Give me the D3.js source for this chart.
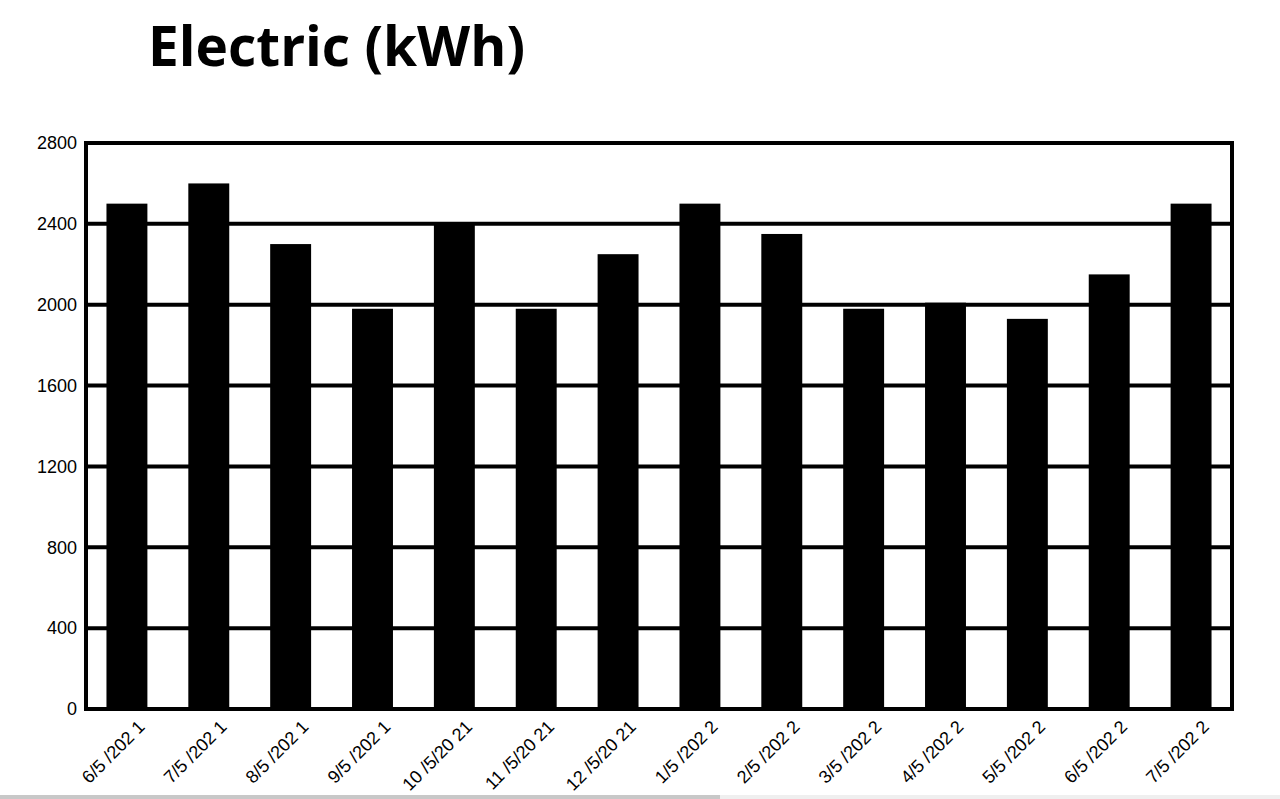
<!DOCTYPE html>
<html><head><meta charset="utf-8">
<script src="https://cdn.jsdelivr.net/npm/d3@7"></script>
<style>html,body{margin:0;padding:0;background:#fff;overflow:hidden}</style>
</head><body>
<svg id="chart" width="1280" height="799"></svg>
<script>
const categories = ["6/5 /202 1","7/5 /202 1","8/5 /202 1","9/5 /202 1","10 /5/20 21","11 /5/20 21","12 /5/20 21","1/5 /202 2","2/5 /202 2","3/5 /202 2","4/5 /202 2","5/5 /202 2","6/5 /202 2","7/5 /202 2"];
const values = [2500,2600,2300,1980,2400,1980,2250,2500,2350,1980,2010,1930,2150,2500];
const yTicks = [0,400,800,1200,1600,2000,2400,2800];
const title = "Electric (kWh)";

const svg = d3.select("#chart");
const L = 86, R = 1232, T = 143, B = 709;

const x = d3.scaleBand().domain(categories).range([L, R]).paddingInner(0.5).paddingOuter(0.25);
const y = d3.scaleLinear().domain([0, 2800]).range([B, T]);

// bottom strip artifact
svg.append("rect").attr("x",0).attr("y",795).attr("width",1280).attr("height",4).attr("fill","#efefef");
svg.append("rect").attr("x",0).attr("y",795).attr("width",720).attr("height",4).attr("fill","#c8c8c8");

// title
svg.append("text").attr("x",148).attr("y",66)
  .attr("font-family","'Open Sans', sans-serif").attr("font-weight","bold")
  .attr("font-size",56).attr("fill","#000").attr("textLength",377).attr("lengthAdjust","spacingAndGlyphs")
  .text(title);

// gridlines
svg.append("g").selectAll("line").data(yTicks).join("line")
  .attr("x1",L).attr("x2",R).attr("y1",d=>y(d)).attr("y2",d=>y(d))
  .attr("stroke","#000").attr("stroke-width",4);

// bars
svg.append("g").selectAll("rect").data(values).join("rect")
  .attr("x",(d,i)=>x(categories[i])).attr("width",x.bandwidth())
  .attr("y",d=>y(d)).attr("height",d=>B-y(d)).attr("fill","#000");

// frame
svg.append("rect").attr("x",L).attr("y",T).attr("width",R-L).attr("height",B-T)
  .attr("fill","none").attr("stroke","#000").attr("stroke-width",4);

// y axis labels
const yAxis = d3.axisLeft(y).tickValues(yTicks).tickFormat(d3.format("d")).tickSize(0).tickPadding(9);
const gy = svg.append("g").attr("transform",`translate(${L},0)`).call(yAxis);
gy.select(".domain").remove();
gy.attr("font-size",null).attr("font-family",null);
gy.selectAll("text").style("font-family","'Liberation Sans', Arial, sans-serif").style("font-size","18px").attr("fill","#000");

// x labels
const xAxis = d3.axisBottom(x).tickSize(0).tickPadding(0);
const gx = svg.append("g").attr("transform",`translate(0,${B})`).call(xAxis);
gx.select(".domain").remove();
gx.attr("font-size",null).attr("font-family",null);
gx.selectAll("text")
  .style("font-family","'Liberation Sans', Arial, sans-serif").style("font-size","18px").attr("fill","#000")
  .attr("text-anchor","end").attr("dy",null).attr("y",0)
  .attr("transform","translate(19,19) rotate(-45)");
</script>
</body></html>
